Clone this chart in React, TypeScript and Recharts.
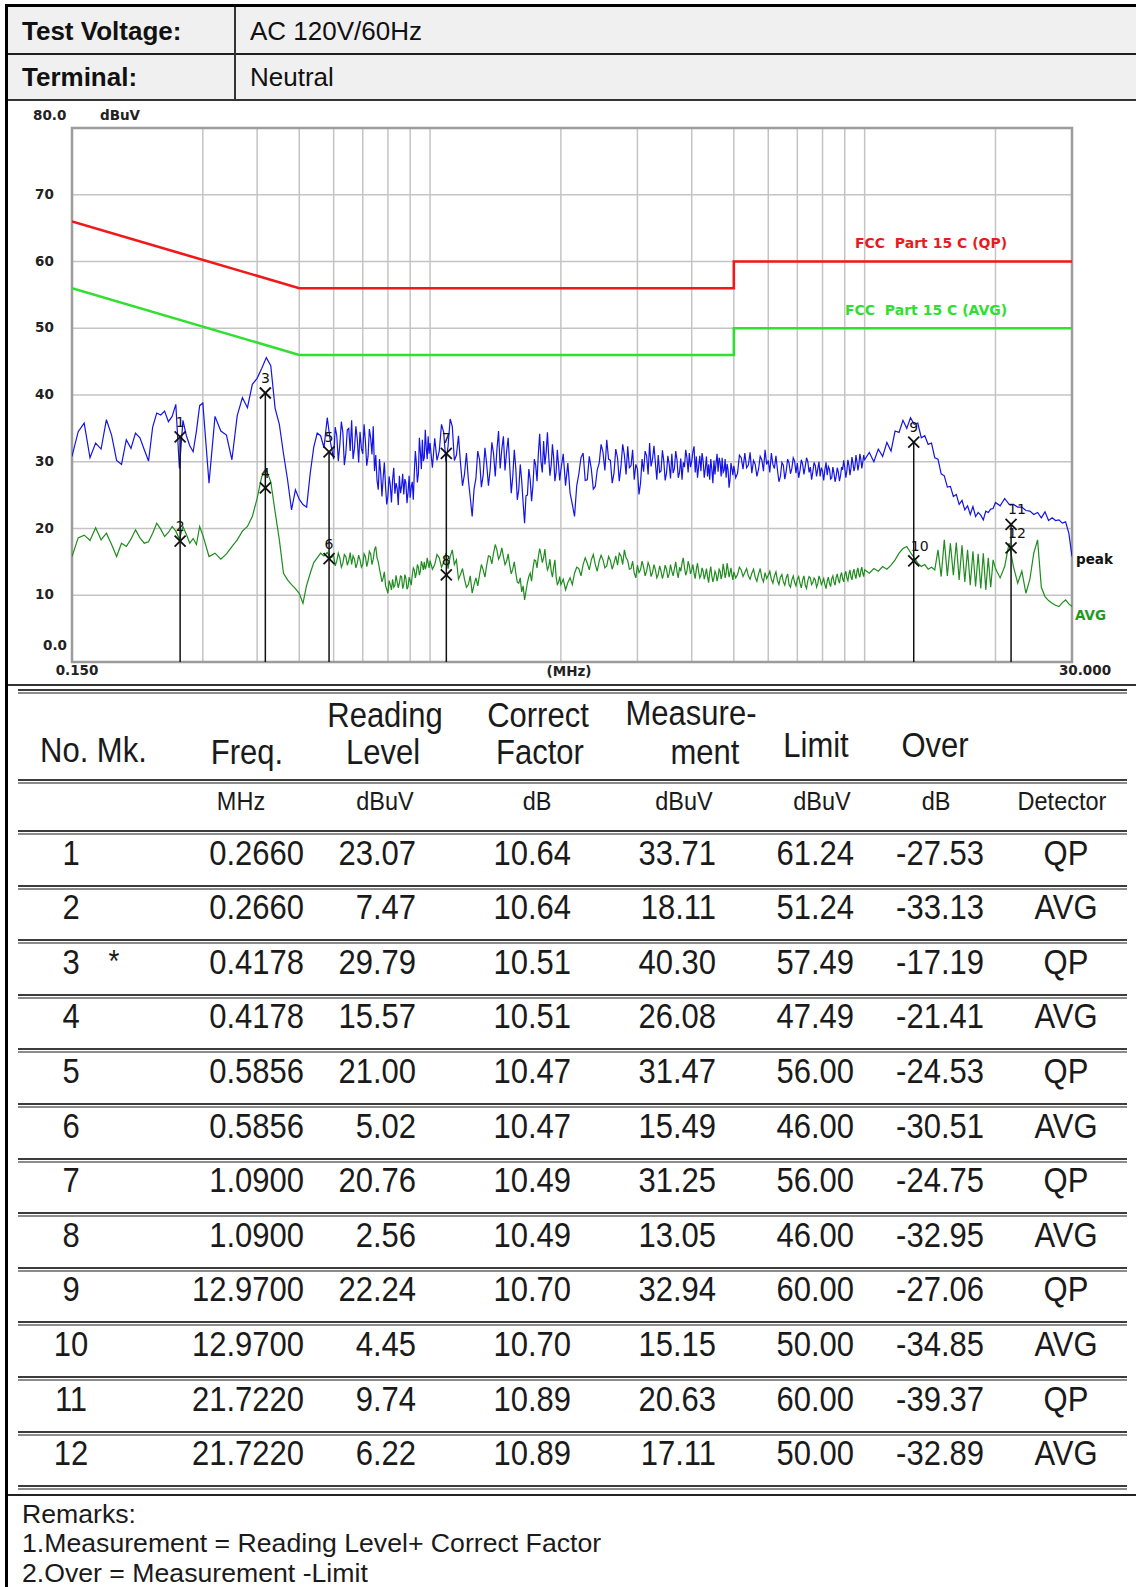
import React from 'react';
import {
  ComposedChart,
  Line,
  Scatter,
  XAxis,
  YAxis,
  CartesianGrid,
  ReferenceLine,
  ReferenceArea,
  Customized,
} from 'recharts';

// ---------------- chart data ----------------
const freqMHz = [
  0.150, 0.155, 0.160, 0.165, 0.170, 0.175, 0.180, 0.185, 0.190, 0.195, 0.200, 0.205, 0.210, 0.215, 0.220,
  0.225, 0.230, 0.235, 0.240, 0.245, 0.250, 0.255, 0.260, 0.265, 0.270, 0.275, 0.280, 0.285, 0.290, 0.295,
  0.30, 0.31, 0.32, 0.33, 0.34, 0.35, 0.36, 0.37, 0.38, 0.39, 0.40, 0.41, 0.42, 0.43, 0.44,
  0.45, 0.46, 0.47, 0.48, 0.49, 0.50, 0.51, 0.52, 0.53, 0.54, 0.55, 0.56, 0.57, 0.58, 0.59,
  0.600, 0.605, 0.610, 0.615, 0.620, 0.625, 0.630, 0.635, 0.640, 0.645, 0.650, 0.655, 0.660, 0.665, 0.670, 0.675, 0.680, 0.685, 0.690, 0.695,
  0.700, 0.705, 0.710, 0.715, 0.720, 0.725, 0.730, 0.735, 0.740, 0.745, 0.750, 0.755, 0.760, 0.765, 0.770, 0.775, 0.780, 0.785, 0.790, 0.795,
  0.800, 0.805, 0.810, 0.815, 0.820, 0.825, 0.830, 0.835, 0.840, 0.845, 0.850, 0.855, 0.860, 0.865, 0.870, 0.875, 0.880, 0.885, 0.890, 0.895,
  0.900, 0.905, 0.910, 0.915, 0.920, 0.925, 0.930, 0.935, 0.940, 0.945, 0.950, 0.955, 0.960, 0.965, 0.970, 0.975, 0.980, 0.985, 0.990, 0.995,
  1.0000, 1.0125, 1.0250, 1.0375, 1.0500, 1.0625, 1.0750, 1.0875, 1.1000, 1.1125, 1.1250, 1.1375, 1.1500, 1.1625, 1.1750, 1.1875, 1.2000, 1.2125, 1.2250, 1.2375,
  1.2500, 1.2625, 1.2750, 1.2875, 1.3000, 1.3125, 1.3250, 1.3375, 1.3500, 1.3625, 1.3750, 1.3875, 1.4000, 1.4125, 1.4250, 1.4375, 1.4500, 1.4625, 1.4750, 1.4875,
  1.5000, 1.5125, 1.5250, 1.5375, 1.5500, 1.5625, 1.5750, 1.5875, 1.6000, 1.6125, 1.6250, 1.6375, 1.6500, 1.6625, 1.6750, 1.6875, 1.7000, 1.7125, 1.7250, 1.7375,
  1.7500, 1.7625, 1.7750, 1.7875, 1.8000, 1.8125, 1.8250, 1.8375, 1.8500, 1.8625, 1.8750, 1.8875, 1.9000, 1.9125, 1.9250, 1.9375, 1.9500, 1.9625, 1.9750, 1.9875,
  2.000, 2.025, 2.050, 2.075, 2.100, 2.125, 2.150, 2.175, 2.200, 2.225, 2.250, 2.275, 2.300, 2.325, 2.350, 2.375, 2.400, 2.425, 2.450, 2.475,
  2.500, 2.525, 2.550, 2.575, 2.600, 2.625, 2.650, 2.675, 2.700, 2.725, 2.750, 2.775, 2.800, 2.825, 2.850, 2.875, 2.900, 2.925, 2.950, 2.975,
  3.000, 3.025, 3.050, 3.075, 3.100, 3.125, 3.150, 3.175, 3.200, 3.225, 3.250, 3.275, 3.300, 3.325, 3.350, 3.375, 3.400, 3.425, 3.450, 3.475,
  3.500, 3.525, 3.550, 3.575, 3.600, 3.625, 3.650, 3.675, 3.700, 3.725, 3.750, 3.775, 3.800, 3.825, 3.850, 3.875, 3.900, 3.925, 3.950, 3.975,
  4.000, 4.025, 4.050, 4.075, 4.100, 4.125, 4.150, 4.175, 4.200, 4.225, 4.250, 4.275, 4.300, 4.325, 4.350, 4.375, 4.400, 4.425, 4.450, 4.475,
  4.500, 4.525, 4.550, 4.575, 4.600, 4.625, 4.650, 4.675, 4.700, 4.725, 4.750, 4.775, 4.800, 4.825, 4.850, 4.875, 4.900, 4.925, 4.950, 4.975,
  5.00, 5.05, 5.10, 5.15, 5.20, 5.25, 5.30, 5.35, 5.40, 5.45, 5.50, 5.55, 5.60, 5.65, 5.70, 5.75, 5.80, 5.85, 5.90, 5.95,
  6.00, 6.05, 6.10, 6.15, 6.20, 6.25, 6.30, 6.35, 6.40, 6.45, 6.50, 6.55, 6.60, 6.65, 6.70, 6.75, 6.80, 6.85, 6.90, 6.95,
  7.00, 7.05, 7.10, 7.15, 7.20, 7.25, 7.30, 7.35, 7.40, 7.45, 7.50, 7.55, 7.60, 7.65, 7.70, 7.75, 7.80, 7.85, 7.90, 7.95,
  8.00, 8.05, 8.10, 8.15, 8.20, 8.25, 8.30, 8.35, 8.40, 8.45, 8.50, 8.55, 8.60, 8.65, 8.70, 8.75, 8.80, 8.85, 8.90, 8.95,
  9.00, 9.05, 9.10, 9.15, 9.20, 9.25, 9.30, 9.35, 9.40, 9.45, 9.50, 9.55, 9.60, 9.65, 9.70, 9.75, 9.80, 9.85, 9.90, 9.95,
  10, 10.25, 10.5, 10.75, 11, 11.25, 11.5, 11.75, 12, 12.25, 12.5, 12.75, 13, 13.25, 13.5, 13.75, 14, 14.25, 14.5, 14.75,
  15, 15.25, 15.5, 15.75, 16, 16.25, 16.5, 16.75, 17, 17.25, 17.5, 17.75, 18, 18.25, 18.5, 18.75, 19, 19.25, 19.5, 19.75,
  20, 20.5, 21, 21.5, 22, 22.5, 23, 23.5, 24, 24.5, 25, 25.5, 26, 26.5, 27, 27.5, 28, 28.5, 29, 29.5, 30,
];

const peakLevel = [
  30.8, 34.5, 35.8, 30.6, 32.8, 31.9, 36.3, 34.0, 30.2, 29.6, 33.3, 32.0, 34.3, 33.6, 31.8,
  30.1, 35.2, 37.3, 37.0, 37.6, 36.0, 36.8, 38.6, 29.0, 36.2, 33.9, 32.4, 31.5, 34.6, 38.4,
  38.8, 26.8, 36.8, 34.6, 34.0, 30.3, 36.9, 39.6, 38.1, 41.6, 42.5, 44.0, 45.6, 44.4, 38.0,
  35.6, 31.2, 27.3, 22.8, 25.8, 24.4, 23.6, 23.2, 28.3, 32.2, 34.3, 33.9, 32.1, 36.6, 32.9,
  30.4, 35.2, 33.9, 30.1, 32.6, 36.0, 34.4, 29.5, 31.3, 34.8, 35.0, 31.6, 36.2, 30.4, 32.0, 35.3, 33.4, 29.9, 34.5, 32.0,
  31.2, 35.6, 33.0, 29.4, 30.8, 34.9, 33.6, 31.1, 35.3, 28.6, 31.0, 27.2, 25.8, 30.4, 28.3, 24.8, 27.6, 29.9, 26.2, 23.6,
  24.9, 27.8, 26.5, 23.9, 27.3, 29.1, 25.2, 26.8, 26.0, 23.5, 27.9, 25.3, 26.3, 28.2, 25.1, 27.4, 26.8, 23.8, 25.4, 27.9,
  24.6, 26.2, 27.0, 24.3, 28.4, 31.6, 29.8, 26.9, 28.2, 33.6, 31.5, 28.9, 33.3, 30.1, 30.6, 34.8, 32.1, 30.4, 33.8, 31.2,
  32.8, 29.1, 33.5, 30.2, 31.6, 35.6, 34.4, 30.0, 32.3, 36.4, 35.3, 30.2, 31.0, 33.9, 29.8, 26.4, 28.1, 31.3, 27.3, 24.6,
  21.8, 25.9, 27.5, 31.6, 30.3, 26.2, 28.0, 32.1, 29.6, 26.4, 28.8, 32.9, 31.2, 27.8, 31.8, 34.6, 29.0, 31.9, 33.8, 28.7,
  31.5, 33.6, 29.4, 25.3, 27.8, 31.8, 29.0, 24.3, 25.8, 29.6, 27.2, 23.8, 20.8, 24.9, 25.0, 28.9, 27.3, 24.1, 26.5, 30.4,
  29.5, 27.1, 31.2, 34.2, 30.0, 28.4, 33.1, 29.6, 31.4, 34.4, 30.8, 27.9, 29.5, 32.6, 30.6, 27.1, 28.4, 31.8, 29.6, 27.2,
  28.8, 31.2, 26.4, 29.8, 25.3, 23.6, 21.8, 26.4, 28.2, 30.6, 31.3, 27.2, 27.3, 30.8, 28.9, 25.9, 26.3, 28.8, 29.8, 32.6,
  31.4, 28.7, 33.3, 30.4, 30.2, 26.8, 28.3, 31.9, 30.6, 27.1, 29.3, 32.6, 31.0, 28.1, 32.3, 29.1, 29.4, 31.8, 27.3, 29.6,
  28.9, 25.1, 26.8, 30.4, 28.5, 31.6, 30.9, 28.1, 32.8, 29.3, 30.4, 32.4, 29.8, 27.3, 31.0, 28.4, 28.6, 31.7, 30.1, 27.2,
  28.3, 30.9, 29.6, 27.5, 31.2, 28.3, 29.0, 31.6, 30.3, 27.6, 28.4, 30.5, 27.3, 29.9, 29.2, 31.8, 30.6, 28.4, 31.3, 29.2,
  30.0, 31.5, 32.3, 28.4, 30.8, 27.6, 29.3, 30.9, 28.6, 31.3, 30.1, 27.6, 29.0, 30.8, 27.8, 29.6, 27.3, 30.4, 28.9, 26.8,
  30.2, 28.1, 29.8, 31.2, 28.5, 30.6, 29.9, 27.8, 30.6, 28.4, 28.7, 30.4, 27.6, 29.7, 28.8, 26.1, 27.3, 29.8, 29.0, 28.0,
  29.4, 27.6, 28.3, 31.0, 30.6, 28.9, 31.3, 29.1, 29.5, 31.4, 28.3, 30.2, 29.6, 27.8, 28.9, 30.8, 30.3, 28.6, 31.8, 29.6,
  30.2, 28.4, 31.3, 29.6, 29.0, 30.9, 28.8, 27.0, 27.8, 29.9, 29.5, 27.4, 28.6, 30.4, 29.8, 28.2, 29.0, 30.6, 30.1, 28.3,
  29.8, 27.6, 28.7, 30.3, 29.6, 28.1, 29.3, 30.6, 30.0, 28.4, 29.2, 27.3, 28.5, 29.9, 29.4, 27.8, 28.9, 30.0, 27.8, 29.1,
  28.6, 27.2, 28.8, 29.9, 28.0, 29.3, 28.9, 27.4, 27.6, 29.2, 28.3, 27.0, 27.8, 29.1, 28.4, 27.1, 27.9, 29.2, 28.8, 30.2,
  29.1, 27.6, 28.6, 30.3, 29.5, 28.0, 29.0, 30.7, 29.8, 28.6, 29.3, 31.0, 30.0, 28.7, 29.6, 31.2, 30.4, 29.0, 29.9, 31.0,
  30.3, 31.4, 30.0, 31.9, 30.8, 32.9, 31.6, 34.6, 34.4, 36.2, 35.0, 36.6, 35.6, 35.8, 33.6, 33.9, 32.6, 32.8, 30.6, 30.4,
  28.2, 27.9, 26.2, 26.3, 24.8, 25.1, 23.6, 24.2, 22.8, 23.4, 22.1, 23.3, 21.8, 22.4, 22.0, 21.3, 22.6, 22.4, 22.9, 23.0,
  23.9, 23.4, 24.5, 23.6, 23.6, 23.2, 23.2, 22.7, 22.6, 22.1, 22.4, 21.6, 22.5, 21.2, 21.6, 21.2, 21.3, 20.8, 21.0, 19.3, 15.8,
];

const avgLevel = [
  15.8, 18.6, 19.0, 18.2, 20.1, 18.3, 19.3, 17.6, 15.8, 17.8, 17.3, 18.4, 19.8, 18.6, 17.8,
  18.0, 19.3, 20.8, 19.9, 18.8, 19.4, 20.3, 19.6, 18.4, 20.3, 19.1, 17.8, 18.5, 17.6, 20.3,
  19.0, 15.8, 16.3, 15.4, 16.2, 17.3, 18.3, 19.6, 20.3, 21.8, 24.5, 27.8, 28.8, 27.0, 22.5,
  18.3, 13.3, 12.3, 11.6, 11.0, 10.3, 8.8, 11.5, 13.3, 14.9, 15.6, 16.3, 15.9, 16.4, 15.6,
  15.9, 14.4, 15.1, 16.3, 15.6, 14.2, 14.8, 16.1, 15.8, 14.5, 15.2, 16.4, 14.6, 15.9, 15.4, 14.1, 14.8, 16.0, 15.3, 14.2,
  14.6, 16.2, 15.8, 14.3, 15.1, 16.6, 16.2, 14.6, 15.4, 16.8, 17.3, 15.6, 15.0, 13.9, 13.0, 12.0, 12.6, 13.5, 11.4, 10.9,
  10.3, 12.2, 11.6, 10.8, 12.4, 11.2, 11.5, 13.0, 12.0, 11.1, 11.8, 12.9, 12.8, 11.0, 11.6, 13.1, 12.5, 10.9, 11.3, 12.7,
  12.2, 11.5, 13.0, 14.1, 13.8, 12.6, 13.3, 14.6, 14.2, 13.0, 13.6, 15.1, 14.5, 13.8, 15.0, 13.9, 14.4, 15.6, 14.8, 14.1,
  15.2, 13.9, 14.6, 16.1, 15.6, 14.2, 14.9, 16.3, 14.0, 15.8, 16.8, 14.6, 15.3, 12.4, 13.1, 14.0, 12.4, 11.2, 11.6, 12.9,
  10.3, 11.6, 12.6, 11.4, 13.1, 14.6, 13.8, 12.7, 14.5, 15.9, 15.8, 14.7, 16.3, 17.6, 16.8, 15.4, 16.0, 17.1, 15.8, 14.6,
  15.1, 16.2, 14.5, 13.2, 13.9, 15.0, 13.3, 12.0, 11.8, 12.6, 10.5, 11.4, 9.3, 10.6, 11.9, 12.8, 13.3, 12.1, 14.0, 15.3,
  15.2, 14.1, 15.8, 17.0, 16.1, 14.9, 15.6, 16.9, 14.9, 13.8, 14.3, 15.4, 13.6, 12.7, 14.2, 15.3, 12.8, 11.6, 11.9, 12.8,
  11.6, 12.4, 10.8, 11.9, 12.6, 11.6, 13.3, 14.2, 14.0, 12.9, 14.6, 15.6, 14.8, 13.8, 15.3, 16.1, 14.6, 13.6, 15.1, 16.0,
  15.3, 14.1, 14.4, 15.8, 15.2, 13.9, 14.8, 15.9, 14.5, 16.3, 15.9, 14.6, 16.8, 15.6, 15.2, 13.9, 14.0, 15.1, 13.3, 12.6,
  14.5, 13.4, 13.8, 15.1, 14.2, 12.9, 13.6, 14.9, 14.3, 12.8, 13.4, 14.6, 13.8, 12.6, 13.1, 14.4, 13.6, 12.5, 13.3, 14.5,
  13.9, 12.6, 13.2, 14.6, 13.6, 12.9, 14.0, 15.0, 13.5, 12.6, 14.2, 13.6, 14.8, 15.6, 14.1, 13.0, 13.6, 15.1, 14.4, 13.2,
  13.8, 14.6, 13.3, 12.5, 13.9, 14.8, 13.5, 12.6, 13.0, 14.1, 13.6, 12.4, 13.1, 14.0, 12.8, 11.9, 13.4, 14.3, 12.9, 12.0,
  12.6, 13.6, 13.2, 12.1, 12.8, 13.9, 13.6, 12.4, 13.1, 14.7, 13.8, 12.6, 13.3, 14.8, 13.9, 12.7, 13.4, 14.1, 13.0, 12.3,
  13.5, 12.6, 13.1, 14.2, 13.8, 12.8, 13.4, 14.0, 12.9, 12.4, 13.3, 13.9, 12.7, 12.1, 13.2, 14.0, 12.6, 12.0, 13.4, 12.5,
  13.0, 13.6, 12.4, 11.8, 12.9, 13.5, 12.2, 11.6, 12.7, 13.1, 12.0, 11.5, 12.6, 13.2, 11.6, 11.2, 12.3, 12.9, 11.9, 11.4,
  12.4, 12.8, 11.8, 11.1, 12.3, 12.9, 11.5, 11.0, 12.2, 12.8, 12.6, 11.6, 11.9, 12.6, 12.3, 11.2, 11.7, 12.9, 12.4, 11.6,
  12.0, 12.5, 11.6, 11.0, 12.1, 12.7, 11.8, 11.3, 12.5, 12.9, 12.0, 11.5, 12.7, 13.2, 12.3, 11.8, 12.9, 13.4, 12.5, 12.0,
  13.1, 13.6, 12.6, 12.2, 13.2, 13.8, 12.8, 12.3, 13.4, 13.9, 13.0, 12.5, 13.6, 14.1, 13.1, 12.7, 13.7, 14.2, 13.3, 12.8,
  13.8, 13.3, 14.0, 13.6, 14.3, 13.9, 14.5, 15.3, 16.3, 17.0, 17.3, 16.4, 15.6, 14.8, 14.3, 14.6, 13.9, 14.2, 13.8, 16.8,
  12.8, 18.3, 12.9, 17.8, 13.0, 17.9, 12.3, 17.5, 12.0, 16.8, 11.5, 16.6, 11.3, 16.2, 11.0, 16.3, 10.8, 15.6, 11.2, 15.3,
  14.0, 12.6, 14.3, 17.8, 14.3, 11.8, 13.6, 10.3, 12.4, 16.3, 18.3, 11.2, 9.8, 9.2, 8.8, 8.5, 8.3, 8.9, 9.3, 8.7, 8.3,
];

const qpLimitFreq = [0.15, 0.5, 5, 5, 30];
const qpLimitLevel = [66, 56, 56, 60, 60];
const avgLimitFreq = [0.15, 0.5, 5, 5, 30];
const avgLimitLevel = [56, 46, 46, 50, 50];

const yTicks = [0, 10, 20, 30, 40, 50, 60, 70, 80];
const xTicks = [0.15, 30];
const verticalGridFreq = [0.3, 0.4, 0.5, 0.6, 0.7, 0.8, 0.9, 1, 2, 3, 4, 5, 6, 7, 8, 9, 10, 20];
const horizontalGridLevel = [10, 20, 30, 40, 50, 60, 70];

// ---------------- table data ----------------
const rowNo = [1, 2, 3, 4, 5, 6, 7, 8, 9, 10, 11, 12];
const rowMk = ['', '', '*', '', '', '', '', '', '', '', '', ''];
const rowFreq = [0.266, 0.266, 0.4178, 0.4178, 0.5856, 0.5856, 1.09, 1.09, 12.97, 12.97, 21.722, 21.722];
const rowReading = [23.07, 7.47, 29.79, 15.57, 21.0, 5.02, 20.76, 2.56, 22.24, 4.45, 9.74, 6.22];
const rowFactor = [10.64, 10.64, 10.51, 10.51, 10.47, 10.47, 10.49, 10.49, 10.7, 10.7, 10.89, 10.89];
const rowMeas = [33.71, 18.11, 40.3, 26.08, 31.47, 15.49, 31.25, 13.05, 32.94, 15.15, 20.63, 17.11];
const rowLimit = [61.24, 51.24, 57.49, 47.49, 56.0, 46.0, 56.0, 46.0, 60.0, 50.0, 60.0, 50.0];
const rowOver = [-27.53, -33.13, -17.19, -21.41, -24.53, -30.51, -24.75, -32.95, -27.06, -34.85, -39.37, -32.89];
const rowDetector = ['QP', 'AVG', 'QP', 'AVG', 'QP', 'AVG', 'QP', 'AVG', 'QP', 'AVG', 'QP', 'AVG'];

const remarks = ['Remarks:', '1.Measurement = Reading Level+ Correct Factor', '2.Over = Measurement -Limit'];

// ---------------- derived structures ----------------
const traceRows = freqMHz.map((f, i) => ({ f, peak: peakLevel[i], avg: avgLevel[i] }));
const qpLimit = qpLimitFreq.map((f, i) => ({ f, v: qpLimitLevel[i] }));
const avgLimit = avgLimitFreq.map((f, i) => ({ f, v: avgLimitLevel[i] }));
const markers = rowNo.map((no, i) => ({ f: rowFreq[i], v: rowMeas[i], no }));
const markerStems: { f: number; v: number }[] = [];
markers.forEach((m) => {
  const e = markerStems.find((s) => s.f === m.f);
  if (e) e.v = Math.max(e.v, m.v);
  else markerStems.push({ f: m.f, v: m.v });
});

const CHART_FONT = "'DejaVu Sans', Verdana, sans-serif";
const DOC_FONT = "'Liberation Sans', Arial, Helvetica, sans-serif";

const YTick = (props: any) => {
  const { y, payload } = props;
  const v = payload.value;
  const label = v === 80 ? '80.0' : v === 0 ? '0.0' : String(v);
  const dy = v === 80 ? -13 : v === 0 ? -17 : -1;
  const x = v === 0 ? 43 : v === 80 ? 33 : 35;
  return (
    <text x={x} y={y + dy} textAnchor="start" dominantBaseline="central" fontFamily={CHART_FONT} fontWeight="bold" fontSize={13.5} fill="#222">
      {label}
    </text>
  );
};

const XTick = (props: any) => {
  const { x, payload } = props;
  const v = payload.value;
  const dx = v < 1 ? 5 : 13;
  return (
    <text x={x + dx} y={570} textAnchor="middle" dominantBaseline="central" fontFamily={CHART_FONT} fontWeight="bold" fontSize={13.5} fill="#222">
      {v.toFixed(3)}
    </text>
  );
};

const MarkerShape = (props: any) => {
  const { cx, cy, payload } = props;
  const s = 5.5;
  const label = String(payload.no);
  const two = label.length > 1;
  return (
    <g>
      <line x1={cx - s} y1={cy - s} x2={cx + s} y2={cy + s} stroke="#111" strokeWidth={1.8} />
      <line x1={cx - s} y1={cy + s} x2={cx + s} y2={cy - s} stroke="#111" strokeWidth={1.8} />
      <text
        x={two ? cx - 3 : cx}
        y={cy - 15}
        textAnchor={two ? 'start' : 'middle'}
        dominantBaseline="central"
        fontFamily={CHART_FONT}
        fontSize={14}
        fill="#111"
      >
        {label}
      </text>
    </g>
  );
};

const ChartLabels = () => (
  <g fontFamily={CHART_FONT} fontWeight="bold" fontSize={13.5}>
    <text x={100} y={15} dominantBaseline="central" fill="#222">dBuV</text>
    <text x={569} y={571} textAnchor="middle" dominantBaseline="central" fill="#222">(MHz)</text>
    <text x={855} y={143} dominantBaseline="central" fill="#e81c1c" fontSize={14} style={{ whiteSpace: 'pre' }}>FCC  Part 15 C (QP)</text>
    <text x={845} y={210} dominantBaseline="central" fill="#2ee02e" fontSize={14} style={{ whiteSpace: 'pre' }}>FCC  Part 15 C (AVG)</text>
    <text x={1076} y={459} dominantBaseline="central" fill="#111">peak</text>
    <text x={1075} y={515} dominantBaseline="central" fill="#1f9a1f">AVG</text>
  </g>
);

// ---------------- html helpers ----------------
const Txt = ({
  x,
  y,
  children,
  align = 'left',
  size = 31,
  stretch = 1.12,
  widen = 1,
  weight = 'normal',
  color = '#1a1a1a',
  lh = 1.2,
}: any) => {
  const w = 620;
  const h = Math.round(size * lh);
  const left = align === 'left' ? x : align === 'center' ? x - w / 2 : x - w;
  const origin = align === 'left' ? 'left center' : align === 'right' ? 'right center' : 'center center';
  return (
    <div
      style={{
        position: 'absolute',
        left,
        top: y - h / 2,
        width: w,
        height: h,
        lineHeight: `${h}px`,
        textAlign: align,
        fontSize: size,
        fontFamily: DOC_FONT,
        fontWeight: weight,
        color,
        transform: `scale(${widen}, ${stretch})`,
        transformOrigin: origin,
        whiteSpace: 'pre',
      }}
    >
      {children}
    </div>
  );
};

const Box = ({ left, top, width, height, bg }: any) => (
  <div style={{ position: 'absolute', left, top, width, height, background: bg }} />
);

const DoubleRule = ({ y }: any) => (
  <div
    style={{
      position: 'absolute',
      left: 18,
      top: y,
      width: 1109,
      height: 1,
      borderTop: '2px solid #3c3c3c',
      borderBottom: '2px solid #8c8c8c',
    }}
  />
);

const ROW0 = 830;
const ROWH = 54.6;

export default function App() {
  return (
    <div style={{ position: 'relative', width: 1136, height: 1587, background: '#fff', overflow: 'hidden' }}>
      <style>{`body{margin:0;}`}</style>

      {/* header block */}
      <Box left={8} top={7} width={1128} height={93} bg="#f0f0f0" />
      <Box left={8} top={53} width={1128} height={2} bg="#1e1e1e" />
      <Box left={8} top={99} width={1128} height={2} bg="#333" />
      <Box left={234} top={7} width={1.5} height={93} bg="#333" />
      <Txt x={22} y={31} size={26} stretch={1} weight="bold" color="#111">Test Voltage:</Txt>
      <Txt x={22} y={77} size={26} stretch={1} weight="bold" color="#111">Terminal:</Txt>
      <Txt x={250} y={31} size={26} stretch={1} color="#111">AC 120V/60Hz</Txt>
      <Txt x={250} y={77} size={26} stretch={1} color="#111">Neutral</Txt>

      {/* chart */}
      <div style={{ position: 'absolute', left: 0, top: 100 }}>
        <ComposedChart width={1136} height={585} data={traceRows} margin={{ top: 28, right: 64, bottom: 0, left: 0 }}>
          <CartesianGrid
            verticalValues={verticalGridFreq}
            horizontalValues={horizontalGridLevel}
            stroke="#c4c4c4"
            strokeWidth={1.5}
          />
          <XAxis
            dataKey="f"
            type="number"
            scale="log"
            domain={[0.15, 30]}
            allowDataOverflow
            ticks={xTicks}
            height={23}
            axisLine={false}
            tickLine={false}
            tick={(p: any) => <XTick {...p} />}
            interval={0}
          />
          <YAxis
            type="number"
            domain={[0, 80]}
            allowDataOverflow
            ticks={yTicks}
            width={72}
            axisLine={false}
            tickLine={false}
            tick={(p: any) => <YTick {...p} />}
            interval={0}
          />
          <ReferenceArea x1={0.15} x2={30} y1={0} y2={80} fill="none" fillOpacity={0} stroke="#9c9c9c" strokeWidth={2.5} />
          <Line data={qpLimit} dataKey="v" type="linear" stroke="#f01818" strokeWidth={2.6} dot={false} activeDot={false} isAnimationActive={false} />
          <Line data={avgLimit} dataKey="v" type="linear" stroke="#2fe02f" strokeWidth={2.6} dot={false} activeDot={false} isAnimationActive={false} />
          <Line dataKey="avg" type="linear" stroke="#1e8c1e" strokeWidth={1.2} dot={false} activeDot={false} isAnimationActive={false} />
          <Line dataKey="peak" type="linear" stroke="#1414e6" strokeWidth={1.2} dot={false} activeDot={false} isAnimationActive={false} />
          {markerStems.map((s) => (
            <ReferenceLine
              key={s.f}
              segment={[
                { x: s.f, y: s.v },
                { x: s.f, y: 0 },
              ]}
              stroke="#111"
              strokeWidth={1.5}
            />
          ))}
          <Scatter data={markers} dataKey="v" shape={(p: any) => <MarkerShape {...p} />} isAnimationActive={false} />
          <Customized component={ChartLabels} />
        </ComposedChart>
      </div>

      {/* separator between chart and table */}
      <Box left={8} top={684} width={1128} height={2} bg="#333" />

      {/* table header */}
      <DoubleRule y={689} />
      <Txt x={40} y={750}>No. Mk.</Txt>
      <Txt x={247} y={752} align="center">Freq.</Txt>
      <Txt x={385} y={715} align="center">Reading</Txt>
      <Txt x={383} y={752} align="center">Level</Txt>
      <Txt x={538} y={715} align="center">Correct</Txt>
      <Txt x={540} y={752} align="center">Factor</Txt>
      <Txt x={691} y={713} align="center">Measure-</Txt>
      <Txt x={705} y={752} align="center">ment</Txt>
      <Txt x={816} y={745} align="center">Limit</Txt>
      <Txt x={935} y={745} align="center">Over</Txt>
      <DoubleRule y={779} />
      <Txt x={241} y={801} align="center" size={23.5} stretch={1.1}>MHz</Txt>
      <Txt x={385} y={801} align="center" size={23.5} stretch={1.1}>dBuV</Txt>
      <Txt x={537} y={801} align="center" size={23.5} stretch={1.1}>dB</Txt>
      <Txt x={684} y={801} align="center" size={23.5} stretch={1.1}>dBuV</Txt>
      <Txt x={822} y={801} align="center" size={23.5} stretch={1.1}>dBuV</Txt>
      <Txt x={936} y={801} align="center" size={23.5} stretch={1.1}>dB</Txt>
      <Txt x={1062} y={801} align="center" size={23.5} stretch={1.1}>Detector</Txt>
      <DoubleRule y={ROW0} />

      {rowNo.map((no, i) => {
        const cy = ROW0 + ROWH * i + 23;
        return (
          <React.Fragment key={no}>
            <Txt x={71} y={cy} align="center">{String(no)}</Txt>
            {rowMk[i] ? <Txt x={114} y={cy} align="center" size={28}>{rowMk[i]}</Txt> : null}
            <Txt x={304} y={cy} align="right">{rowFreq[i].toFixed(4)}</Txt>
            <Txt x={416} y={cy} align="right">{rowReading[i].toFixed(2)}</Txt>
            <Txt x={571} y={cy} align="right">{rowFactor[i].toFixed(2)}</Txt>
            <Txt x={716} y={cy} align="right">{rowMeas[i].toFixed(2)}</Txt>
            <Txt x={854} y={cy} align="right">{rowLimit[i].toFixed(2)}</Txt>
            <Txt x={984} y={cy} align="right">{rowOver[i].toFixed(2)}</Txt>
            <Txt x={1066} y={cy} align="center">{rowDetector[i]}</Txt>
            <DoubleRule y={ROW0 + ROWH * (i + 1)} />
          </React.Fragment>
        );
      })}

      {/* remarks */}
      <Box left={8} top={1494} width={1128} height={2} bg="#222" />
      {remarks.map((r, i) => (
        <Txt key={i} x={22} y={1514 + 29.5 * i} size={25.5} stretch={1} widen={1.045} lh={1.12}>{r}</Txt>
      ))}

      {/* outer page borders */}
      <Box left={5} top={4} width={1131} height={3} bg="#000" />
      <Box left={5} top={4} width={3} height={1583} bg="#000" />
    </div>
  );
}
